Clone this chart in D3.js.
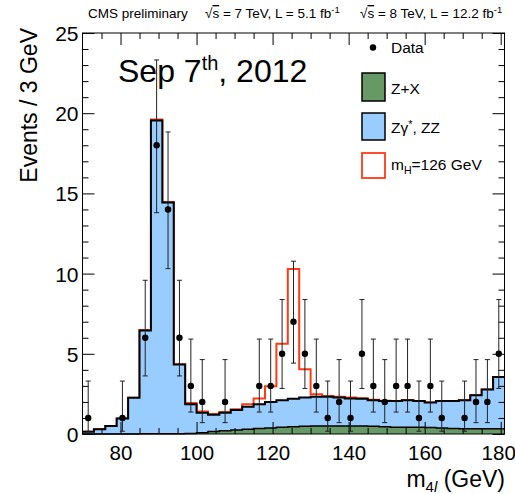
<!DOCTYPE html>
<html>
<head>
<meta charset="utf-8">
<script src="https://cdn.jsdelivr.net/npm/d3@7"></script>
<style>
  body { margin: 0; background: #fff; }
  svg { display: block; }
  text { font-family: "Liberation Sans", Arial, Helvetica, sans-serif; fill: #000; }
</style>
</head>
<body>
<svg id="chart" width="515" height="494"></svg>
<script>
// Four-lepton invariant mass, 3 GeV bins from 70 to 181 GeV
const binLowEdges = [70, 73, 76, 79, 82, 85, 88, 91, 94, 97, 100, 103, 106, 109, 112, 115, 118, 121,
  124, 127, 130, 133, 136, 139, 142, 145, 148, 151, 154, 157, 160, 163, 166, 169, 172, 175, 178];
const binWidth = 3;

// Reducible background (Z+X)
const zxValues = [0, 0, 0, 0, 0, 0.01, 0.01, 0.02, 0.02, 0.03, 0.08, 0.15, 0.20, 0.25, 0.30, 0.34, 0.38,
  0.42, 0.45, 0.48, 0.50, 0.50, 0.50, 0.50, 0.50, 0.48, 0.45, 0.42, 0.42, 0.42, 0.40, 0.38, 0.35, 0.33,
  0.33, 0.32, 0.32];

// Irreducible background (Zgamma*, ZZ)
const zzValues = [0.14, 0.29, 0.50, 0.97, 2.26, 6.45, 19.54, 14.41, 4.31, 1.83, 1.24, 1.05, 1.12, 1.24,
  1.40, 1.52, 1.62, 1.69, 1.74, 1.80, 1.82, 1.82, 1.78, 1.71, 1.70, 1.63, 1.60, 1.63, 1.69, 1.63, 1.57,
  1.67, 1.70, 1.78, 2.09, 2.45, 3.24];

// Signal expectation, mH = 126 GeV
const signalValues = [0, 0, 0, 0, 0, 0.02, 0.06, 0.03, 0.02, 0.08, 0.08, 0.05, 0.05, 0.05, 0.16, 0.35,
  0.98, 3.52, 8.10, 1.76, 0.16, 0.05, 0.04, 0.06, 0.03, 0.02, 0.02, 0.01, 0.01, 0, 0, 0, 0, 0, 0, 0, 0];

// Observed events per bin
const dataCounts = [1, 0, 0, 1, 0, 6, 18, 14, 6, 3, 2, 0, 2, 0, 0, 3, 3, 5, 7, 5, 3, 1, 2, 1, 5, 3, 2,
  3, 3, 1, 3, 1, 0, 1, 2, 2, 5];

// 68% central Poisson intervals for the observed counts
const poissonLow  = { 1: 0.173, 2: 0.708, 3: 1.367, 5: 2.840, 6: 3.620, 7: 4.419, 14: 10.31, 18: 13.80 };
const poissonHigh = { 1: 3.300, 2: 4.638, 3: 5.918, 5: 8.382, 6: 9.584, 7: 10.77, 14: 18.83, 18: 23.32 };

// Axis ticks
const xMajorTicks = [80, 100, 120, 140, 160, 180];
const xMinorTicks = [75, 85, 90, 95, 105, 110, 115, 125, 130, 135, 145, 150, 155, 165, 170, 175];
const yMajorTicks = [0, 5, 10, 15, 20, 25];
const yMinorTicks = [1, 2, 3, 4, 6, 7, 8, 9, 11, 12, 13, 14, 16, 17, 18, 19, 21, 22, 23, 24];

const colZX = "#669966", colZZ = "#99ccff", colSig = "#ff3a14";

const svg = d3.select("#chart");
const x = d3.scaleLinear().domain([70, 181]).range([82.5, 504.5]);
const y = d3.scaleLinear().domain([0, 25]).range([434, 33]);

// Cumulative stack levels
const zxTop = zxValues.slice();
const bkgTop = zxValues.map((v, i) => v + zzValues[i]);
const sigTop = bkgTop.map((v, i) => v + signalValues[i]);

// Points at every bin edge (last value repeated at the upper edge) for step curves
function stepPoints(vals) {
  const pts = binLowEdges.map((e, i) => [e, vals[i]]);
  pts.push([binLowEdges[binLowEdges.length - 1] + binWidth, vals[vals.length - 1]]);
  return pts;
}
const stepArea = d3.area().curve(d3.curveStepAfter)
  .x(d => x(d[0])).y0(y(0)).y1(d => y(d[1]));
const stepLine = d3.line().curve(d3.curveStepAfter)
  .x(d => x(d[0])).y(d => y(d[1]));

const plot = svg.append("g");

// signal on top of background (outline only)
plot.append("path").attr("d", stepLine(stepPoints(sigTop)))
  .attr("fill", "none").attr("stroke", colSig).attr("stroke-width", 2);

// ZZ + Z+X stack
plot.append("path").attr("d", stepArea(stepPoints(bkgTop))).attr("fill", colZZ);
plot.append("path").attr("d", stepLine(stepPoints(bkgTop)))
  .attr("fill", "none").attr("stroke", "#000").attr("stroke-width", 2);

// Z+X
plot.append("path").attr("d", stepArea(stepPoints(zxTop))).attr("fill", colZX);
plot.append("path").attr("d", stepLine(stepPoints(zxTop)))
  .attr("fill", "none").attr("stroke", "#000").attr("stroke-width", 1.5);

// Axes: ticks on all four sides, pointing inward
function drawAxis(gen, tr, ticks, size, labels) {
  const g = svg.append("g").attr("transform", tr)
    .call(gen.tickValues(ticks).tickSizeInner(-size).tickSizeOuter(0)
      .tickFormat(labels ? d3.format("d") : () => ""));
  g.select(".domain").remove();
  g.selectAll(".tick line").attr("stroke", "#000").attr("stroke-width", 1);
  return g;
}
const gxb = drawAxis(d3.axisBottom(x).tickPadding(11), `translate(0,${y(0)})`, xMajorTicks, 12, true);
drawAxis(d3.axisBottom(x), `translate(0,${y(0)})`, xMinorTicks, 6, false);
drawAxis(d3.axisTop(x), `translate(0,${y(25)})`, xMajorTicks, 12, false);
drawAxis(d3.axisTop(x), `translate(0,${y(25)})`, xMinorTicks, 6, false);
const gyl = drawAxis(d3.axisLeft(y).tickPadding(4), `translate(${x(70)},0)`, yMajorTicks, 12, true);
drawAxis(d3.axisLeft(y), `translate(${x(70)},0)`, yMinorTicks, 6, false);
drawAxis(d3.axisRight(y), `translate(${x(181)},0)`, yMajorTicks, 12, false);
drawAxis(d3.axisRight(y), `translate(${x(181)},0)`, yMinorTicks, 6, false);
gxb.selectAll(".tick text").attr("font-size", 20.5).attr("font-family", "Liberation Sans, Arial, sans-serif").attr("fill", "#000")
  .attr("dx", d => d === 180 ? -2.5 : 0);
gyl.selectAll(".tick text").attr("font-size", 21).attr("font-family", "Liberation Sans, Arial, sans-serif").attr("fill", "#000")
  .attr("dy", "0.36em");

// frame
svg.append("rect").attr("x", x(70)).attr("y", y(25))
  .attr("width", x(181) - x(70)).attr("height", y(0) - y(25))
  .attr("fill", "none").attr("stroke", "#000").attr("stroke-width", 1);

// Data points with asymmetric Poisson error bars
const dataPts = dataCounts.map((n, i) => ({ c: binLowEdges[i] + binWidth / 2, n }))
  .filter(d => d.n > 0);
const dg = svg.append("g");
dg.selectAll("line.err").data(dataPts).join("line").attr("class", "err")
  .attr("x1", d => x(d.c)).attr("x2", d => x(d.c))
  .attr("y1", d => y(poissonLow[d.n])).attr("y2", d => y(poissonHigh[d.n]))
  .attr("stroke", "#222").attr("stroke-width", 1);
["lo", "hi"].forEach(k => {
  dg.selectAll("line.cap" + k).data(dataPts).join("line").attr("class", "cap" + k)
    .attr("x1", d => x(d.c) - 2.5).attr("x2", d => x(d.c) + 2.5)
    .attr("y1", d => y(k === "lo" ? poissonLow[d.n] : poissonHigh[d.n]))
    .attr("y2", d => y(k === "lo" ? poissonLow[d.n] : poissonHigh[d.n]))
    .attr("stroke", "#222").attr("stroke-width", 1);
});
dg.selectAll("circle").data(dataPts).join("circle")
  .attr("cx", d => x(d.c)).attr("cy", d => y(d.n)).attr("r", 3.2).attr("fill", "#000");

// Axis titles
const xt = svg.append("text").attr("x", 505).attr("y", 487).attr("text-anchor", "end").attr("font-size", 23);
xt.append("tspan").text("m");
xt.append("tspan").attr("font-size", 15).attr("dy", 5).text("4");
xt.append("tspan").attr("font-size", 15).attr("font-style", "italic").text("l");
xt.append("tspan").attr("dy", -5).text(" (GeV)");

svg.append("text").attr("transform", "translate(37,28) rotate(-90)")
  .attr("text-anchor", "end").attr("font-size", 23).text("Events / 3 GeV");

// Header
svg.append("text").attr("x", 88).attr("y", 18).attr("font-size", 13.5).text("CMS preliminary");
function lumiText(x0, energy, lumi) {
  const t = svg.append("text").attr("x", x0).attr("y", 18).attr("font-size", 13.5);
  t.append("tspan").text("\u221A");
  t.append("tspan").attr("text-decoration", "overline").text("s");
  t.append("tspan").text(` = ${energy} TeV, L = ${lumi} fb`);
  t.append("tspan").attr("font-size", 9.5).attr("dy", -5).text("-1");
}
lumiText(205, 7, "5.1");
lumiText(360, 8, "12.2");

// Date
const dt = svg.append("text").attr("x", 118).attr("y", 82).attr("font-size", 32);
dt.append("tspan").text("Sep 7");
dt.append("tspan").attr("font-size", 20).attr("dy", -12).text("th");
dt.append("tspan").attr("dy", 12).text(", 2012");

// Legend
const lg = svg.append("g");
lg.append("circle").attr("cx", 373).attr("cy", 47.5).attr("r", 3.2).attr("fill", "#000");
lg.append("text").attr("x", 391).attr("y", 53).attr("font-size", 15.5).text("Data");

lg.append("rect").attr("x", 362).attr("y", 73).attr("width", 23).attr("height", 28)
  .attr("fill", colZX).attr("stroke", "#000").attr("stroke-width", 1.5);
lg.append("text").attr("x", 391).attr("y", 94).attr("font-size", 15.5).text("Z+X");

lg.append("rect").attr("x", 362).attr("y", 113).attr("width", 23).attr("height", 27)
  .attr("fill", colZZ).attr("stroke", "#000").attr("stroke-width", 1.5);
const zzt = lg.append("text").attr("x", 391).attr("y", 133).attr("font-size", 15.5);
zzt.append("tspan").text("Z\u03B3");
zzt.append("tspan").attr("font-size", 11).attr("dy", -5).text("*");
zzt.append("tspan").attr("dy", 5).text(", ZZ");

lg.append("rect").attr("x", 362).attr("y", 153).attr("width", 23).attr("height", 25)
  .attr("fill", "#fff").attr("stroke", colSig).attr("stroke-width", 1.8);
const mht = lg.append("text").attr("x", 391).attr("y", 170).attr("font-size", 15.5);
mht.append("tspan").text("m");
mht.append("tspan").attr("font-size", 10.5).attr("dy", 4).text("H");
mht.append("tspan").attr("dy", -4).text("=126 GeV");
</script>
</body>
</html>
